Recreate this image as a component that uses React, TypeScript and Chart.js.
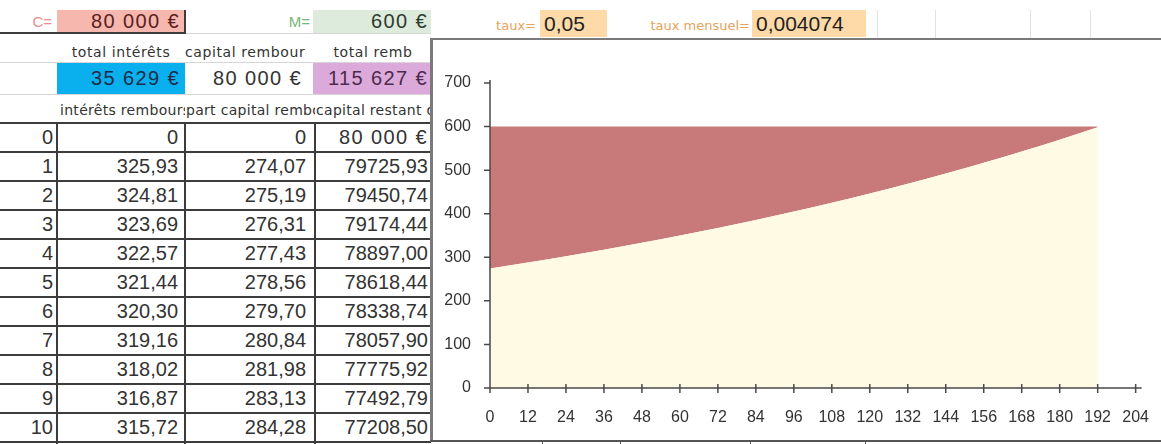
import React, { useEffect, useRef } from "react";
import { Chart, registerables } from "chart.js";

Chart.register(...registerables);

// Tableau d'amortissement : premières échéances
const mois = [0, 1, 2, 3, 4, 5, 6, 7, 8, 9, 10];
const interetsRembourses = [0, 325.93, 324.81, 323.69, 322.57, 321.44, 320.3, 319.16, 318.02, 316.87, 315.72];
const partCapitalRemboursee = [0, 274.07, 275.19, 276.31, 277.43, 278.56, 279.7, 280.84, 281.98, 283.13, 284.28];
const capitalRestant = [80000, 79725.93, 79450.74, 79174.44, 78897.0, 78618.44, 78338.74, 78057.9, 77775.92, 77492.79, 77208.5];

// Paramètres du prêt
const capitalEmprunte = 80000;
const mensualite = 600;
const tauxAnnuel = 0.05;
const tauxMensuel = 0.004074;
const totalInterets = 35629;
const totalRembourse = 115627;

// Graphique : décomposition de la mensualité (lecture tous les 12 mois)
const echeances = [0, 12, 24, 36, 48, 60, 72, 84, 96, 108, 120, 132, 144, 156, 168, 180, 192];
const partCapitalMensuelle = [274.1, 287.8, 302.2, 317.3, 333.1, 349.8, 367.3, 385.6, 404.9, 425.2, 446.4, 468.7, 492.2, 516.8, 542.6, 569.8, 598.2];
const interetsMensuels = [325.9, 312.2, 297.8, 282.7, 266.9, 250.2, 232.7, 214.4, 195.1, 174.8, 153.6, 131.3, 107.8, 83.2, 57.4, 30.2, 1.8];
const axeXMax = 204;
const axeXPas = 12;
const axeYMax = 700;
const axeYPas = 100;

const NBSP = "\u00a0";
const euros = (v: number) =>
  Math.round(v).toString().replace(/\B(?=(\d{3})+(?!\d))/g, NBSP) + NBSP + "€";
const decimal = (v: number) => (v === 0 ? "0" : v.toFixed(2).replace(".", ","));

const SANS = "'Liberation Sans', Arial, sans-serif";
const LABEL = "'DejaVu Sans', Verdana, sans-serif";
const EURO_SPACING = 1.4;

type CellProps = {
  x: number;
  y: number;
  w: number;
  h: number;
  text?: string;
  bg?: string;
  color?: string;
  align?: "left" | "right" | "center";
  size?: number;
  family?: string;
  padL?: number;
  padR?: number;
  spacing?: number;
  dy?: number;
};

function Cell(p: CellProps) {
  return (
    <div
      style={{
        position: "absolute",
        left: p.x,
        top: p.y,
        width: p.w,
        height: p.h,
        background: p.bg || "transparent",
        overflow: "hidden",
        whiteSpace: "nowrap",
        boxSizing: "border-box",
        paddingLeft: p.padL ?? 0,
        paddingRight: p.padR ?? 0,
        textAlign: p.align || "left",
        color: p.color || "#333",
        fontFamily: p.family || SANS,
        fontSize: p.size || 20,
        letterSpacing: p.spacing ?? 0,
        lineHeight: p.h + "px",
      }}
    >
      <span style={{ position: "relative", top: p.dy ?? 0 }}>{p.text}</span>
    </div>
  );
}

function Line({ x, y, w, h, c }: { x: number; y: number; w: number; h: number; c: string }) {
  return <div style={{ position: "absolute", left: x, top: y, width: w, height: h, background: c }} />;
}

const axesPlugin = {
  id: "axesTableur",
  afterDatasetsDraw(chart: any) {
    const { ctx, scales } = chart;
    const x = scales.x;
    const y = scales.y;
    const x0 = x.getPixelForValue(0);
    const y0 = y.getPixelForValue(0);
    const yTop = y.getPixelForValue(axeYMax);
    ctx.save();
    ctx.strokeStyle = "#4a4a4a";
    ctx.lineWidth = 1.5;
    ctx.beginPath();
    ctx.moveTo(x0, yTop - 3);
    ctx.lineTo(x0, y0);
    ctx.moveTo(x0 - 6, y0);
    ctx.lineTo(x.getPixelForValue(axeXMax) + 6, y0);
    y.ticks.forEach((t: any) => {
      const py = y.getPixelForValue(t.value);
      ctx.moveTo(x0 - 6, py);
      ctx.lineTo(x0, py);
    });
    x.ticks.forEach((t: any) => {
      const px = x.getPixelForValue(t.value);
      ctx.moveTo(px, y0 - 4);
      ctx.lineTo(px, y0 + 5);
    });
    ctx.stroke();
    ctx.restore();
  },
};

function Graphique() {
  const ref = useRef<HTMLCanvasElement | null>(null);
  useEffect(() => {
    if (!ref.current) return;
    const chart = new Chart(ref.current, {
      type: "line",
      data: {
        datasets: [
          {
            label: "part capital",
            data: echeances.map((m, i) => ({ x: m, y: partCapitalMensuelle[i] })),
            backgroundColor: "#FFFAE4",
            borderWidth: 0,
            pointRadius: 0,
            fill: "origin",
            cubicInterpolationMode: "monotone",
          },
          {
            label: "intérêts",
            data: echeances.map((m, i) => ({ x: m, y: interetsMensuels[i] })),
            backgroundColor: "#C87A7A",
            borderWidth: 0,
            pointRadius: 0,
            fill: "-1",
            cubicInterpolationMode: "monotone",
          },
        ],
      },
      options: {
        animation: false,
        responsive: false,
        layout: { padding: { top: 42, right: 19, left: 0, bottom: 0 } },
        plugins: { legend: { display: false }, tooltip: { enabled: false } },
        scales: {
          x: {
            type: "linear",
            min: 0,
            max: axeXMax,
            grid: { display: false },
            border: { display: false },
            ticks: {
              stepSize: axeXPas,
              padding: 12,
              color: "#333",
              font: { family: "Liberation Sans", size: 16 },
              maxRotation: 0,
              autoSkip: false,
            },
            afterFit: (s: any) => {
              s.height = 50;
            },
          },
          y: {
            stacked: true,
            min: 0,
            max: axeYMax,
            grid: { display: false },
            border: { display: false },
            ticks: {
              stepSize: axeYPas,
              padding: 11,
              color: "#333",
              font: { family: "Liberation Sans", size: 16 },
            },
            afterFit: (s: any) => {
              s.width = 56;
            },
          },
        },
      },
      plugins: [axesPlugin],
    });
    return () => chart.destroy();
  }, []);
  return <canvas ref={ref} width={727} height={397} style={{ position: "absolute", left: 434, top: 41 }} />;
}

export default function App() {
  const colX = [0, 57, 185, 315, 431];
  const y0 = 123;
  const rowH = 29;
  const padR = [4, 7, 9, 3];
  const dark = "#3c3c3c";
  const faint = "#d6d6d6";

  const rows = mois.map((m, i) => {
    const top = y0 + i * rowH;
    const vals = [
      String(m),
      decimal(interetsRembourses[i]),
      decimal(partCapitalRemboursee[i]),
      i === 0 ? euros(capitalRestant[i]) : decimal(capitalRestant[i]),
    ];
    return vals.map((v, c) => (
      <Cell
        key={`r${i}c${c}`}
        x={colX[c]}
        y={top}
        w={colX[c + 1] - colX[c]}
        h={rowH}
        text={v}
        align="right"
        padR={padR[c]}
        size={20}
        spacing={i === 0 && c === 3 ? EURO_SPACING : 0}
      />
    ));
  });

  const hLines = mois.map((_, i) => (
    <Line key={`h${i}`} x={0} y={y0 + i * rowH - 1} w={431} h={2} c={dark} />
  ));

  return (
    <div
      style={{
        position: "absolute",
        left: 0,
        top: 0,
        width: 1161,
        height: 444,
        overflow: "hidden",
        background: "#fff",
      }}
    >
      {/* ligne 1 : paramètres */}
      <Cell x={0} y={10} w={57} h={23} text="C=" align="right" padR={5} size={15} color="#E88C8C" />
      <Cell x={57} y={10} w={128} h={23} text={euros(capitalEmprunte)} bg="#F6B7AF" align="right" padR={5} size={20} color="#5a1e1e" spacing={EURO_SPACING} />
      <Line x={0} y={32} w={186} h={2} c={dark} />
      <Line x={184} y={10} w={2} h={24} c={dark} />
      <Cell x={185} y={10} w={130} h={23} text="M=" align="right" padR={5} size={15} color="#79B579" />
      <Cell x={313} y={10} w={118} h={23} text={euros(mensualite)} bg="#DDEBDC" align="right" padR={3} size={20} color="#2d3a2d" spacing={EURO_SPACING} />
      <Cell x={480} y={10} w={60} h={27} text="taux=" align="right" padR={4} size={13} color="#E6A35A" family={LABEL} dy={2} />
      <Cell x={540} y={10} w={67} h={27} text={String(tauxAnnuel).replace(".", ",")} bg="#FDDAA8" padL={4} size={21} color="#222" />
      <Cell x={607} y={10} w={145} h={27} text="taux mensuel=" align="right" padR={2} size={13} color="#E6A35A" family={LABEL} dy={2} />
      <Cell x={752} y={10} w={114} h={27} text={String(tauxMensuel).replace(".", ",")} bg="#FDDAA8" padL={4} size={21} color="#222" />
      {[877, 935, 1030, 1090].map((gx) => (
        <Line key={`g${gx}`} x={gx} y={10} w={1} h={28} c="#e2e2e2" />
      ))}

      {/* lignes 2 à 4 : totaux et en-têtes */}
      <Line x={186} y={33} w={245} h={1} c={faint} />
      <Line x={0} y={62} w={431} h={1} c={faint} />
      <Line x={0} y={94} w={431} h={1} c={faint} />
      <Cell x={57} y={34} w={128} h={28} text="total intérêts" align="center" size={14} family={LABEL} spacing={0.6} dy={4} />
      <Cell x={185} y={34} w={128} h={28} text="capital rembour" align="left" size={14} family={LABEL} spacing={0.6} dy={4} />
      <Cell x={315} y={34} w={116} h={28} text="total remb" align="center" size={14} family={LABEL} spacing={0.6} dy={4} />
      <Cell x={57} y={63} w={128} h={31} text={euros(totalInterets)} bg="#0AB0EE" align="right" padR={5} size={20} color="#1d2b48" spacing={EURO_SPACING} />
      <Cell x={185} y={63} w={128} h={31} text={euros(capitalEmprunte)} align="right" padR={11} size={20} spacing={EURO_SPACING} />
      <Cell x={313} y={63} w={118} h={31} text={euros(totalRembourse)} bg="#DBAADB" align="right" padR={3} size={20} color="#4d2a4d" spacing={EURO_SPACING} />
      <Cell x={60} y={95} w={125} h={28} text="intérêts rembours" size={14} family={LABEL} spacing={0.3} dy={1} />
      <Cell x={186} y={95} w={129} h={28} text="part capital remboursé" size={14} family={LABEL} spacing={0.3} dy={1} />
      <Cell x={316} y={95} w={115} h={28} text="capital restant dû" size={14} family={LABEL} spacing={0.3} dy={1} />

      {/* tableau */}
      {rows}
      {hLines}
      <Line x={0} y={y0 + mois.length * rowH - 1} w={431} h={2} c={dark} />
      {[57, 185, 315].map((vx) => (
        <Line key={`v${vx}`} x={vx - 1} y={y0} w={2} h={321} c={dark} />
      ))}

      {/* cadre du graphique */}
      <div
        style={{
          position: "absolute",
          left: 430,
          top: 38,
          width: 731,
          height: 402,
          boxSizing: "border-box",
          borderTop: "2px solid #7a7a7a",
          borderLeft: "3px solid #7a7a7a",
          background: "#fff",
        }}
      />
      <Graphique />
      <Line x={430} y={440} w={731} h={2} c="#555" />
      {[542, 620, 750, 865].map((tx) => (
        <Line key={`t${tx}`} x={tx} y={440} w={1} h={4} c="#555" />
      ))}
    </div>
  );
}
